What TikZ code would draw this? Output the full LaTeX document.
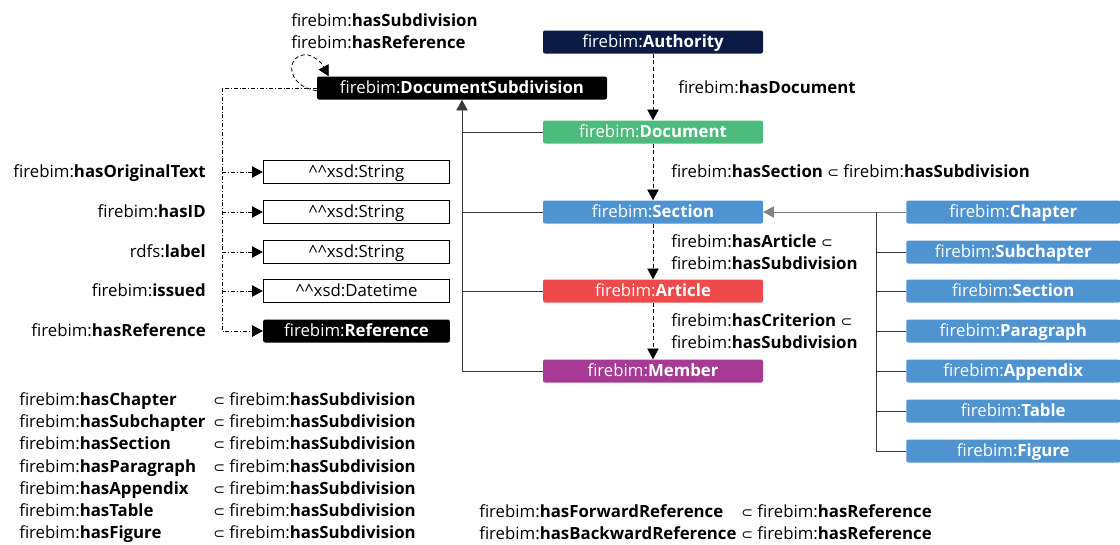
\documentclass[tikz,border=0pt]{standalone}
\usepackage{fontspec}
\setmainfont{Open Sans}
\newfontfamily\symfont{DejaVu Sans}
\usetikzlibrary{calc, positioning}
\usetikzlibrary{arrows.meta}

\definecolor{fbnavy}{HTML}{0C1B45}
\definecolor{fbgreen}{HTML}{4DBB7C}
\definecolor{fbblue}{HTML}{4F94D0}
\definecolor{fbred}{HTML}{EE4A4B}
\definecolor{fbpurple}{HTML}{A63A95}
\definecolor{fbline}{HTML}{3A3A3A}

\newcommand{\fb}[1]{firebim:\textbf{#1}}
\newcommand{\sbs}{{\symfont\fontsize{10.5}{10.5}\selectfont ⊂}}

\tikzset{
  cls/.style={rounded corners=1.5pt, minimum width=165pt, minimum height=17.25pt, inner sep=0pt, text=white, text height=10.6pt, text depth=2.6pt},
  lit/.style={draw, line width=0.6pt, minimum width=140pt, minimum height=17.5pt, inner sep=0pt, text height=10.6pt, text depth=2.6pt},
  rcls/.style={cls, fill=fbblue, minimum width=160.5pt, anchor=west},
  txt/.style={inner sep=0pt, text height=10.6pt, text depth=2.6pt},
  mtxt/.style={inner sep=0pt, align=left, anchor=west},
  link/.style={line width=0.6pt, draw=fbline},
  dlink/.style={line width=0.6pt, dashed, dash pattern=on 3pt off 2pt},
  ddlink/.style={line width=0.6pt, dash pattern=on 3pt off 1.5pt on 0.6pt off 1.5pt},
  >={Triangle[length=8pt,width=8.5pt]}
}

\begin{document}
\begin{tikzpicture}[x=0.75pt, y=-0.75pt, font=\fontsize{12.6}{16.3}\selectfont]
\useasboundingbox (0,0) rectangle (1120,544);

% classes in the middle
\node[cls, fill=fbnavy] (auth) at (653,42) {\fb{Authority}};
\node[cls, fill=black, minimum width=217.5pt] (ds) at (462,88) {\fb{DocumentSubdivision}};
\node[cls, fill=fbgreen] (doc) at (653,132) {\fb{Document}};
\node[cls, fill=fbblue] (sec) at (653,212) {\fb{Section}};
\node[cls, fill=fbred] (art) at (653,291) {\fb{Article}};
\node[cls, fill=fbpurple] (mem) at (653,371) {\fb{Member}};

% literals
\node[lit] (ot) at (356.5,172) {\^{}\^{}xsd:String};
\node[lit] (id) at (356.5,212) {\^{}\^{}xsd:String};
\node[lit] (lab) at (356.5,252) {\^{}\^{}xsd:String};
\node[lit] (iss) at (356.5,291) {\^{}\^{}xsd:Datetime};
\node[cls, fill=black, minimum width=140pt] (ref) at (356.5,331) {\fb{Reference}};

\node[txt, anchor=east] (pot) at (206,172) {\fb{hasOriginalText}};
\node[txt, anchor=east] (pid) at (206,212) {\fb{hasID}};
\node[txt, anchor=east] (plab) at (206,252) {rdfs:\textbf{label}};
\node[txt, anchor=east] (piss) at (206,291) {\fb{issued}};
\node[txt, anchor=east] (pref) at (206,331) {\fb{hasReference}};

% right column
\node[rcls] (ch) at (906,212) {\fb{Chapter}};
\node[rcls] (sch) at (906,252) {\fb{Subchapter}};
\node[rcls] (sec2) at (906,291) {\fb{Section}};
\node[rcls] (par) at (906,331) {\fb{Paragraph}};
\node[rcls] (app) at (906,371) {\fb{Appendix}};
\node[rcls] (tab) at (906,411) {\fb{Table}};
\node[rcls] (fig) at (906,451) {\fb{Figure}};

% property labels
\node[mtxt] (ploop) at (291,31) {\fb{hasSubdivision}\\\fb{hasReference}};
\node[txt, anchor=west] (pdoc) at (678,88) {\fb{hasDocument}};
\node[txt, anchor=west] (psec) at (671,172) {\fb{hasSection} \sbs{} \fb{hasSubdivision}};
\node[mtxt] (part) at (671,252.5) {\fb{hasArticle} \sbs\\\fb{hasSubdivision}};
\node[mtxt] (pmem) at (671,331.5) {\fb{hasCriterion} \sbs\\\fb{hasSubdivision}};

% object properties
\draw[dlink, ->] (auth) -- (doc);
\draw[dlink, ->] (doc) -- (sec);
\draw[dlink, ->] (sec) -- (art);
\draw[dlink, ->] (art) -- (mem);
\draw[dlink, ->] ([yshift=-2pt]ds.west) .. controls (284,86) and (286,52) .. (308,55)
  .. controls (316,57) and (321,62) .. ([xshift=9pt]ds.north west);

% data properties
\coordinate (dp) at (222,88);
\draw[ddlink] (ds.west) -- (dp);
\draw[ddlink, ->] (dp) |- (ref.west);
\foreach \t in {ot, id, lab, iss}
  \draw[ddlink, ->] (dp |- \t.west) -- (\t.west);

% subclasses of DocumentSubdivision
\draw[link, ->] (mem.west) -| (ds.south);
\foreach \c in {doc, sec, art}
  \draw[link] (\c.west) -- (\c.west -| ds.south);

% subclasses of Section
\coordinate (rs) at (876,212);
\draw[link, draw=gray, ->] (ch.west) -- (sec.east);
\draw[link] (rs) |- (fig.west);
\foreach \c in {sch, sec2, par, app, tab}
  \draw[link] (rs |- \c.west) -- (\c.west);

% sub-property lists
\foreach \p [count=\i] in {Chapter, Subchapter, Section, Paragraph, Appendix, Table, Figure} {
  \node[txt, anchor=west] (l\i) at (19,{378+22.17*\i}) {\fb{has\p}};
  \node[txt, anchor=west] (r\i) at (213,{378+22.17*\i}) {\sbs{} \fb{hasSubdivision}};
}
\node[txt, anchor=west] (fw) at (479,512) {\fb{hasForwardReference}};
\node[txt, anchor=west] (fws) at (741,512) {\sbs{} \fb{hasReference}};
\node[txt, anchor=west] (bw) at (479,534) {\fb{hasBackwardReference}};
\node[txt, anchor=west] (bws) at (741,534) {\sbs{} \fb{hasReference}};
\end{tikzpicture}
\end{document}
